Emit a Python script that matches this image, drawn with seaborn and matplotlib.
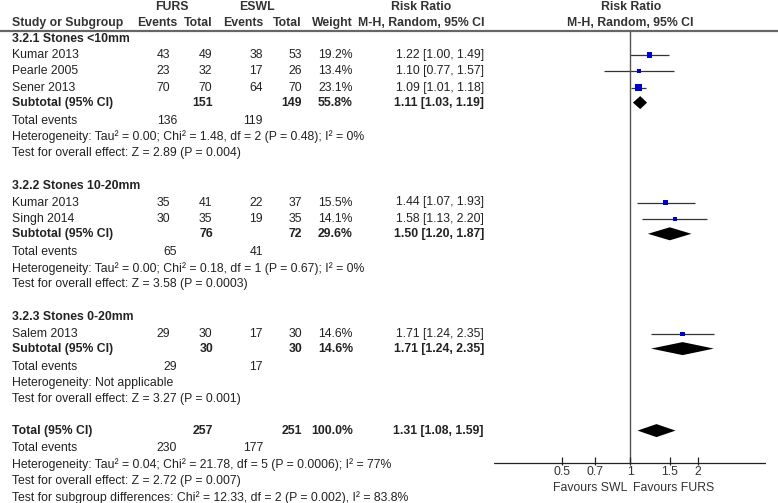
import numpy as np
import pandas as pd
import matplotlib
matplotlib.use('Agg')
import matplotlib.pyplot as plt
import seaborn as sns

sns.set_style('white')
plt.rcParams['font.family'] = ['Liberation Sans', 'DejaVu Sans']

# study level data
groups = ['3.2.1 Stones <10mm', '3.2.2 Stones 10-20mm', '3.2.3 Stones 0-20mm']
study_group = [0, 0, 0, 1, 1, 2]
study_names = ['Kumar 2013', 'Pearle 2005', 'Sener 2013', 'Kumar 2013', 'Singh 2014', 'Salem 2013']
furs_events = [43, 23, 70, 35, 30, 29]
furs_total = [49, 32, 70, 41, 35, 30]
eswl_events = [38, 17, 64, 22, 19, 17]
eswl_total = [53, 26, 70, 37, 35, 30]
weights = [19.2, 13.4, 23.1, 15.5, 14.1, 14.6]
rr = [1.22, 1.10, 1.09, 1.44, 1.58, 1.71]
rr_lo = [1.00, 0.77, 1.01, 1.07, 1.13, 1.24]
rr_hi = [1.49, 1.57, 1.18, 1.93, 2.20, 2.35]

# subgroup data
sub_furs_total = [151, 76, 30]
sub_eswl_total = [149, 72, 30]
sub_weight = [55.8, 29.6, 14.6]
sub_rr = [1.11, 1.50, 1.71]
sub_lo = [1.03, 1.20, 1.24]
sub_hi = [1.19, 1.87, 2.35]
sub_furs_events = [136, 65, 29]
sub_eswl_events = [119, 41, 17]
sub_het = ['Heterogeneity: Tau² = 0.00; Chi² = 1.48, df = 2 (P = 0.48); I² = 0%',
           'Heterogeneity: Tau² = 0.00; Chi² = 0.18, df = 1 (P = 0.67); I² = 0%',
           'Heterogeneity: Not applicable']
sub_test = ['Test for overall effect: Z = 2.89 (P = 0.004)',
            'Test for overall effect: Z = 3.58 (P = 0.0003)',
            'Test for overall effect: Z = 3.27 (P = 0.001)']

# overall
total_furs, total_eswl = 257, 251
total_weight = 100.0
total_rr, total_lo, total_hi = 1.31, 1.08, 1.59
total_furs_events, total_eswl_events = 230, 177
total_notes = ['Heterogeneity: Tau² = 0.04; Chi² = 21.78, df = 5 (P = 0.0006); I² = 77%',
               'Test for overall effect: Z = 2.72 (P = 0.007)',
               'Test for subgroup differences: Chi² = 12.33, df = 2 (P = 0.002), I² = 83.8%']

ticks = [0.5, 0.7, 1, 1.5, 2]
tick_labels = ['0.5', '0.7', '1', '1.5', '2']

W, H = 778, 503
fig = plt.figure(figsize=(W / 100, H / 100), dpi=100)
ax = fig.add_axes([0, 0, 1, 1])
ax.set_xlim(0, W)
ax.set_ylim(H, 0)
ax.axis('off')

# forest axes: log scale, x=1 at pixel 630
fx0, fx1 = 494, 766
axf = fig.add_axes([fx0 / W, 0, (fx1 - fx0) / W, 1])
axf.set_xscale('log')
axf.set_xlim(0.25, 4)
axf.set_ylim(H, 0)
axf.axis('off')

fs = 8.8
tc = '#222222'


def txt(x, y, s, ha='left', bold=False):
    ax.text(x, y, s, ha=ha, va='center', fontsize=fs, color=tc,
            fontweight='bold' if bold else 'normal')


def row_y(i):
    return 38.5 + i * 16.4


# header
hc = '#333333'
for x, s in [(172, 'FURS'), (257, 'ESWL'), (421, 'Risk Ratio'), (631, 'Risk Ratio')]:
    ax.text(x, 7, s, ha='center', va='center', fontsize=fs, color=hc, fontweight='bold')
ax.text(12, 23, 'Study or Subgroup', ha='left', va='center', fontsize=fs, color=hc, fontweight='bold')
for x, s in [(177, 'Events'), (213, 'Total'), (263, 'Events'), (302, 'Total'), (353, 'Weight')]:
    ax.text(x, 23, s, ha='right', va='center', fontsize=fs, color=hc, fontweight='bold')
for x in [421, 630]:
    ax.text(x, 23, 'M-H, Random, 95% CI', ha='center', va='center', fontsize=fs, color=hc, fontweight='bold')
ax.plot([0, W], [31, 31], color='#666666', lw=1.6)

# rows
idx = 0
sq_x, sq_y, sq_w = [], [], []
for g, gname in enumerate(groups):
    txt(12, row_y(idx), gname, bold=True)
    idx += 1
    for k in [j for j in range(len(study_names)) if study_group[j] == g]:
        y = row_y(idx)
        txt(12, y, study_names[k])
        txt(170, y, str(furs_events[k]), ha='right')
        txt(212, y, str(furs_total[k]), ha='right')
        txt(263, y, str(eswl_events[k]), ha='right')
        txt(302, y, str(eswl_total[k]), ha='right')
        txt(353, y, f'{weights[k]:.1f}%', ha='right')
        txt(484, y, f'{rr[k]:.2f} [{rr_lo[k]:.2f}, {rr_hi[k]:.2f}]', ha='right')
        axf.hlines(y, rr_lo[k], rr_hi[k], color='#333333', lw=0.9)
        sq_x.append(rr[k]); sq_y.append(y); sq_w.append(weights[k])
        idx += 1
    y = row_y(idx) - 1.5
    txt(12, y, 'Subtotal (95% CI)', bold=True)
    txt(213, y, str(sub_furs_total[g]), ha='right', bold=True)
    txt(302, y, str(sub_eswl_total[g]), ha='right', bold=True)
    txt(353, y, f'{sub_weight[g]:.1f}%', ha='right', bold=True)
    txt(484, y, f'{sub_rr[g]:.2f} [{sub_lo[g]:.2f}, {sub_hi[g]:.2f}]', ha='right', bold=True)
    axf.fill([sub_lo[g], sub_rr[g], sub_hi[g], sub_rr[g]], [y, y - 6.5, y, y + 6.5], color='black', lw=0)
    idx += 1
    y = row_y(idx)
    txt(12, y, 'Total events')
    txt(177, y, str(sub_furs_events[g]), ha='right')
    txt(263, y, str(sub_eswl_events[g]), ha='right')
    idx += 1
    txt(12, row_y(idx), sub_het[g])
    idx += 1
    txt(12, row_y(idx), sub_test[g])
    idx += 2

# overall
y = row_y(idx) - 1.5
txt(12, y, 'Total (95% CI)', bold=True)
txt(213, y, str(total_furs), ha='right', bold=True)
txt(302, y, str(total_eswl), ha='right', bold=True)
txt(353, y, f'{total_weight:.1f}%', ha='right', bold=True)
txt(484, y, f'{total_rr:.2f} [{total_lo:.2f}, {total_hi:.2f}]', ha='right', bold=True)
axf.fill([total_lo, total_rr, total_hi, total_rr], [y, y - 6.5, y, y + 6.5], color='black', lw=0)
idx += 1
y = row_y(idx)
txt(12, y, 'Total events')
txt(177, y, str(total_furs_events), ha='right')
txt(263, y, str(total_eswl_events), ha='right')
idx += 1
for note in total_notes:
    txt(12, row_y(idx), note)
    idx += 1

# squares sized by weight
sq = pd.DataFrame({'rr': sq_x, 'y': sq_y, 'w': sq_w})
sns.scatterplot(data=sq, x='rr', y='y', size='w', sizes=(8, 22), marker='s',
                color='#0000cc', edgecolor='none', linewidth=0, legend=False, ax=axf, zorder=3)
axf.set_xlim(0.25, 4)
axf.set_ylim(H, 0)
axf.axis('off')

# reference line and axis
axis_y = 463
axf.vlines(1, 31, axis_y, color='#555555', lw=1.0)
axf.plot([0.25, 4], [axis_y, axis_y], color='#222222', lw=0.9)
axf.vlines(ticks, axis_y - 6, axis_y + 1.5, color='#222222', lw=0.9)
for t, lab in zip(ticks, tick_labels):
    axf.text(t, 472, lab, ha='center', va='center', fontsize=fs, color='#333333')
axf.text(0.97, 488, 'Favours SWL', ha='right', va='center', fontsize=fs, color='#333333')
axf.text(1.035, 488, 'Favours FURS', ha='left', va='center', fontsize=fs, color='#333333')

fig.savefig('out.png', dpi=100)
